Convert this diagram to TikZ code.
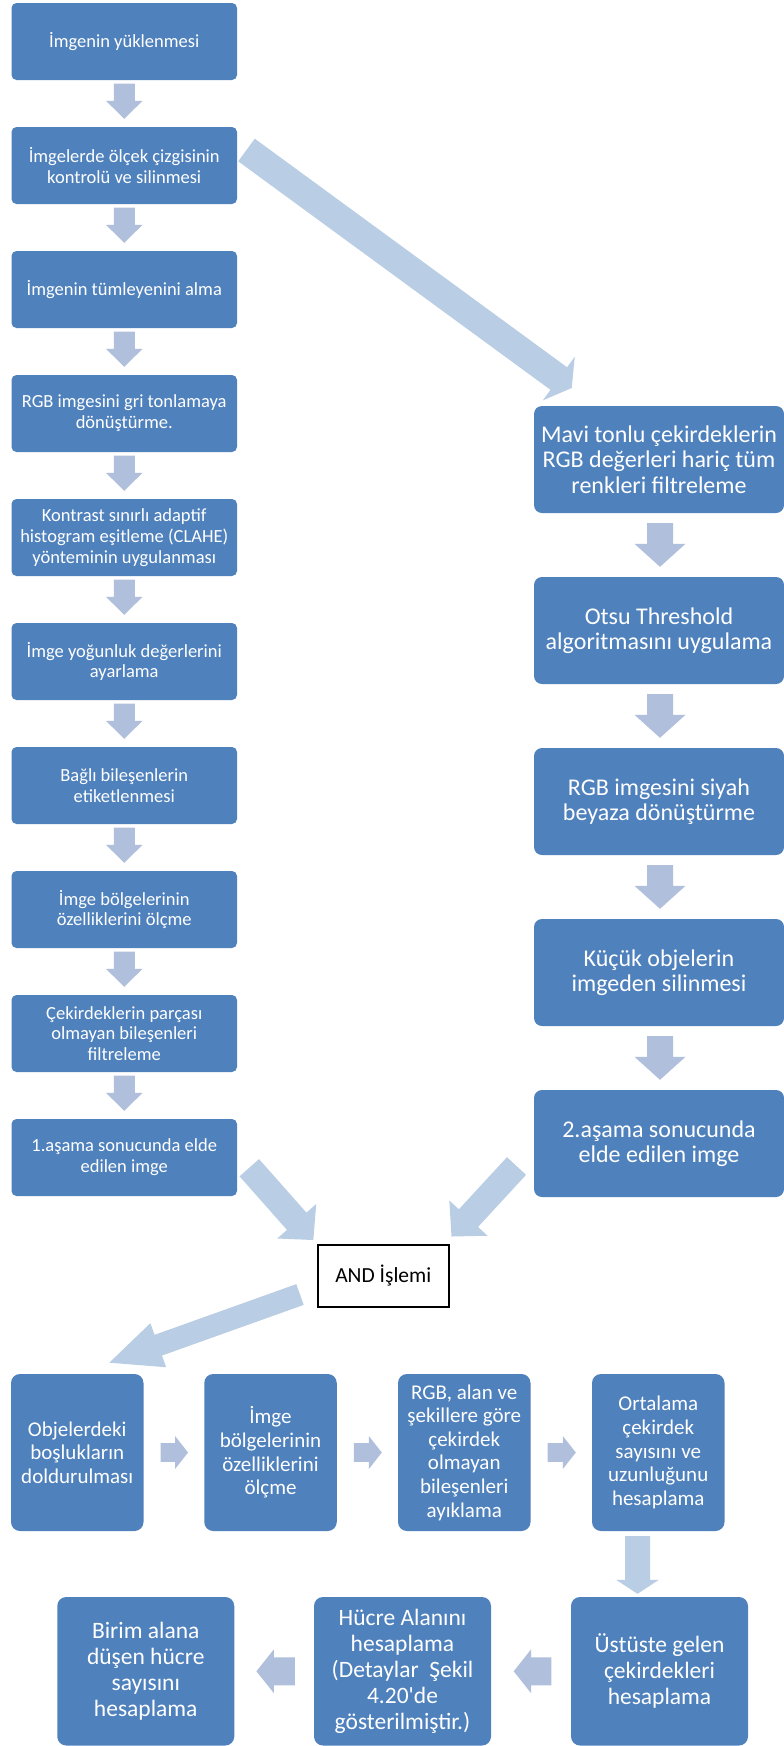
\documentclass[tikz,border=0pt]{standalone}
\usepackage{fontspec}
\setmainfont{Carlito}[Ligatures=TeXOff]
\usetikzlibrary{calc}
\definecolor{boxblue}{HTML}{4F81BD}
\definecolor{arrA}{HTML}{B0BFDC}
\definecolor{arrB}{HTML}{B9CDE5}
\newcommand\lfnt{\fontsize{18.5}{20.8}\selectfont}
\newcommand\rfnt{\fontsize{24}{25.3}\selectfont}
\newcommand\afnt{\fontsize{21}{23.6}\selectfont}
\newcommand\cfnt{\fontsize{23.5}{26}\selectfont}
\newcommand\andfnt{\fontsize{21.5}{24}\selectfont}
% block arrow: [colour]{tail}{tip}{shaft half width}{head half width}{head length}
\newcommand\barrow[6][arrA]{%
  \coordinate (bT) at #2;
  \coordinate (bH) at #3;
  \coordinate (bA) at ($(bH)!#6pt!(bT)$);
  \fill[#1] ($(bT)!#4pt!90:(bH)$) -- ($(bA)!#4pt!90:(bH)$) -- ($(bA)!#5pt!90:(bH)$) -- (bH)
    -- ($(bA)!#5pt!-90:(bH)$) -- ($(bA)!#4pt!-90:(bH)$) -- ($(bT)!#4pt!-90:(bH)$) -- cycle;}
\begin{document}
\begin{tikzpicture}[x=1pt,y=-1pt,
  box/.style={fill=boxblue, text=white, align=center, inner sep=0pt},
  lbox/.style={box, minimum width=225.5pt, minimum height=77pt, rounded corners=5pt, font=\lfnt},
  rbox/.style={box, minimum width=250pt, minimum height=107pt, rounded corners=8pt, font=\rfnt},
  abox/.style={box, minimum width=132.5pt, minimum height=157pt, rounded corners=9pt, font=\afnt},
  cbox/.style={box, minimum width=177pt, minimum height=148.5pt, rounded corners=9pt, font=\cfnt},
  andbox/.style={draw=black, line width=2pt, fill=white, text=black, minimum width=131.5pt, minimum height=62pt, inner sep=0pt, font=\andfnt}]
\fill[white] (0,0) rectangle (784,1746);
\useasboundingbox (0,0) rectangle (784,1746);
% left column
\node[lbox] (L1) at (124.25,41.5) {İmgenin yüklenmesi};
\node[lbox] (L2) at (124.25,165.5) {İmgelerde ölçek çizgisinin\\kontrolü ve silinmesi};
\node[lbox] (L3) at (124.25,289.5) {İmgenin tümleyenini alma};
\node[lbox] (L4) at (124.25,413.5) {RGB imgesini gri tonlamaya\\dönüştürme.};
\node[lbox] (L5) at (124.25,537.5) {Kontrast sınırlı adaptif\\histogram eşitleme (CLAHE)\\yönteminin uygulanması};
\node[lbox] (L6) at (124.25,661.5) {İmge yoğunluk değerlerini\\ayarlama};
\node[lbox] (L7) at (124.25,785.5) {Bağlı bileşenlerin\\etiketlenmesi};
\node[lbox] (L8) at (124.25,909.5) {İmge bölgelerinin\\özelliklerini ölçme};
\node[lbox] (L9) at (124.25,1033.5) {Çekirdeklerin parçası\\olmayan bileşenleri\\filtreleme};
\node[lbox] (L10) at (124.25,1157.5) {1.aşama sonucunda elde\\edilen imge};
% right column
\node[rbox] (R1) at (659,459.5) {Mavi tonlu çekirdeklerin\\RGB değerleri hariç tüm\\renkleri filtreleme};
\node[rbox] (R2) at (659,630.5) {Otsu Threshold\\algoritmasını uygulama};
\node[rbox] (R3) at (659,801.5) {RGB imgesini siyah\\beyaza dönüştürme};
\node[rbox] (R4) at (659,972.5) {Küçük objelerin\\imgeden silinmesi};
\node[rbox] (R5) at (659,1143.5) {2.aşama sonucunda\\elde edilen imge};
% AND
\node[andbox] (AND) at (383.25,1276) {AND İşlemi};
% row A
\node[abox] (A1) at (77.25,1452.5) {Objelerdeki\\boşlukların\\doldurulması};
\node[abox] (A2) at (270.5,1452.5) {İmge\\bölgelerinin\\özelliklerini\\ölçme};
\node[abox] (A3) at (464.25,1452.5) {RGB, alan ve\\şekillere göre\\çekirdek\\olmayan\\bileşenleri\\ayıklama};
\node[abox] (A4) at (658.25,1452.5) {Ortalama\\çekirdek\\sayısını ve\\uzunluğunu\\hesaplama};
% row C
\node[cbox] (C1) at (145.75,1671.25) {Birim alana\\düşen hücre\\sayısını\\hesaplama};
\node[cbox] (C2) at (402.5,1671.25) {Hücre Alanını\\hesaplama\\(Detaylar\ \ Şekil\\4.20'de\\gösterilmiştir.)};
\node[cbox] (C3) at (659.5,1671.25) {Üstüste gelen\\çekirdekleri\\hesaplama};
% left column arrows
\barrow{($(L1.south)+(0,3.5)$)}{($(L2.north)+(0,-8)$)}{10.5}{18.3}{18}
\barrow{($(L2.south)+(0,3.5)$)}{($(L3.north)+(0,-8)$)}{10.5}{18.3}{18}
\barrow{($(L3.south)+(0,3.5)$)}{($(L4.north)+(0,-8)$)}{10.5}{18.3}{18}
\barrow{($(L4.south)+(0,3.5)$)}{($(L5.north)+(0,-8)$)}{10.5}{18.3}{18}
\barrow{($(L5.south)+(0,3.5)$)}{($(L6.north)+(0,-8)$)}{10.5}{18.3}{18}
\barrow{($(L6.south)+(0,3.5)$)}{($(L7.north)+(0,-8)$)}{10.5}{18.3}{18}
\barrow{($(L7.south)+(0,3.5)$)}{($(L8.north)+(0,-8)$)}{10.5}{18.3}{18}
\barrow{($(L8.south)+(0,3.5)$)}{($(L9.north)+(0,-8)$)}{10.5}{18.3}{18}
\barrow{($(L9.south)+(0,3.5)$)}{($(L10.north)+(0,-8)$)}{10.5}{18.3}{18}
% right column arrows
\barrow{($(R1.south)+(1,10)$)}{($(R2.north)+(1,-10)$)}{13}{25.5}{23}
\barrow{($(R2.south)+(1,10)$)}{($(R3.north)+(1,-10)$)}{13}{25.5}{23}
\barrow{($(R3.south)+(1,10)$)}{($(R4.north)+(1,-10)$)}{13}{25.5}{23}
\barrow{($(R4.south)+(1,10)$)}{($(R5.north)+(1,-10)$)}{13}{25.5}{23}
% big diagonal arrows
\coordinate (d1t) at (246.5,150);  \coordinate (d1h) at (571.7,388);
\coordinate (d2t) at (249.3,1167.7); \coordinate (d2h) at (313.3,1240);
\coordinate (d3t) at (516.5,1166); \coordinate (d3h) at (451.5,1236.5);
\coordinate (d4t) at (300,1294.5); \coordinate (d4h) at (109.3,1362.7);
\barrow[arrB]{(d1t)}{(d1h)}{14}{27}{16}
\barrow[arrB]{(d2t)}{(d2h)}{13}{26}{25}
\barrow[arrB]{(d3t)}{(d3h)}{13}{26}{25}
\barrow[arrB]{(d4t)}{(d4h)}{11}{23.4}{52}
% row A arrows
\barrow{($(A1.east)+(17,0)$)}{($(A2.west)+(-16,0)$)}{9.3}{16.5}{13}
\barrow{($(A2.east)+(17,0)$)}{($(A3.west)+(-16,0)$)}{9.3}{16.5}{13}
\barrow{($(A3.east)+(17,0)$)}{($(A4.west)+(-16,0)$)}{9.3}{16.5}{13}
% down to row C
\coordinate (dAt) at ($(A4.south)+(-20.75,5)$);
\coordinate (dAh) at ($(C3.north)+(-22,-3)$);
\barrow[arrB]{(dAt)}{(dAh)}{12.5}{21.3}{14}
% row C arrows
\barrow{($(C3.west)+(-19.5,0)$)}{($(C2.east)+(22.5,0)$)}{14}{22}{17.5}
\barrow{($(C2.west)+(-19,0)$)}{($(C1.east)+(22,0)$)}{14}{22}{17.5}
\end{tikzpicture}
\end{document}
